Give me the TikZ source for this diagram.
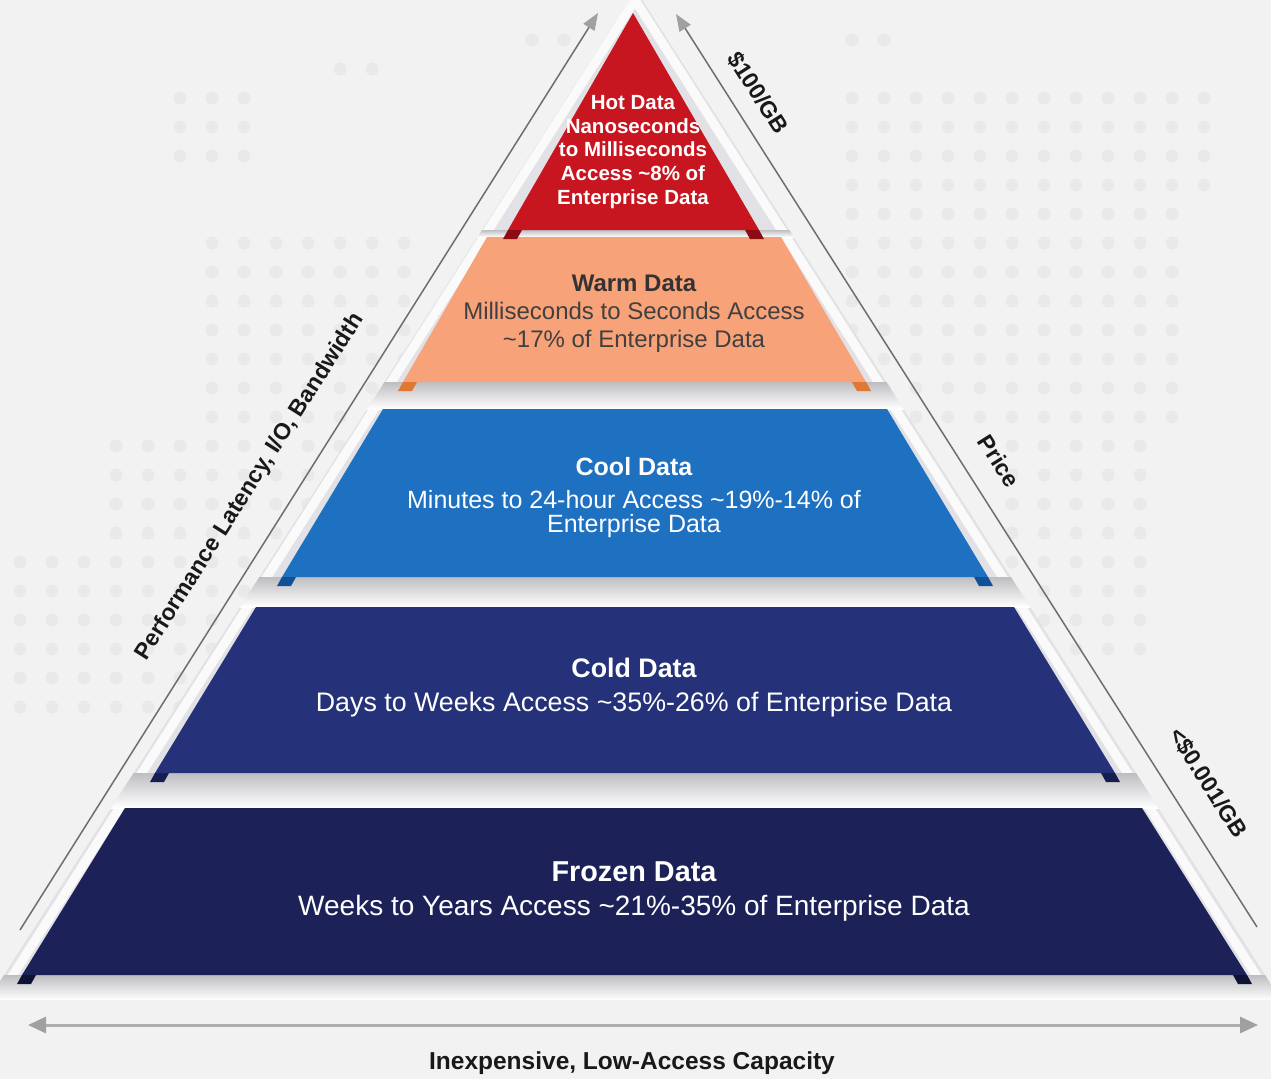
\documentclass[tikz,border=0pt]{standalone}
\usepackage{fontspec}
\setmainfont{Liberation Sans}
\usetikzlibrary{arrows.meta}

\definecolor{pagebg}{RGB}{242,242,242}
\definecolor{mapdot}{RGB}{233,233,233}
\definecolor{backing}{RGB}{226,226,230}
\definecolor{gapshadow}{RGB}{190,190,194}
\definecolor{hotred}{RGB}{200,22,32}
\definecolor{hotdark}{RGB}{140,12,20}
\definecolor{warmorange}{RGB}{247,162,120}
\definecolor{warmdark}{RGB}{222,120,50}
\definecolor{coolblue}{RGB}{30,112,193}
\definecolor{cooldark}{RGB}{18,80,150}
\definecolor{coldnavy}{RGB}{37,49,120}
\definecolor{colddark}{RGB}{22,30,80}
\definecolor{frozennavy}{RGB}{28,34,88}
\definecolor{frozendark}{RGB}{14,18,55}
\definecolor{axisline}{RGB}{110,110,110}
\definecolor{tipgray}{RGB}{160,160,160}

\begin{document}
\begin{tikzpicture}[
  x=1pt, y=-1pt,
  txt/.style={text=white, align=center, inner sep=0pt},
  sidelabel/.style={text=black!90, inner sep=0pt, font=\bfseries\fontsize{23}{25}\selectfont},
  axis/.style={line width=1.5pt, draw=axisline, -{Triangle[length=17pt,width=13pt,color=tipgray]}},
  capaxis/.style={line width=3pt, draw=tipgray!85, {Triangle[length=18pt,width=16pt,color=tipgray]}-{Triangle[length=18pt,width=16pt,color=tipgray]}}
]
  \useasboundingbox (0,0) rectangle (1271,1079);
  \fill[pagebg] (0,0) rectangle (1271,1079);

  % faint dotted world map behind the pyramid
  \begin{scope}
    \clip (164,83.5) rectangle (260,170.5) (324,54.5) rectangle (388,83.5)
          (516,25) rectangle (580,54.5) (836,25) rectangle (900,54.5)
          (196,228.5) rectangle (420,431.5) (100,431.5) rectangle (420,547.5)
          (4,547.5) rectangle (260,721.5) (836,83.5) rectangle (1220,199.5)
          (836,199.5) rectangle (1188,431.5) (996,431.5) rectangle (1156,663.5);
    \foreach \i in {0,...,38}
      \foreach \j in {0,...,24}
        \fill[mapdot] (20+32*\i, 40+29*\j) circle (6.5);
  \end{scope}

  % light backing with the shadows between the layers
  \begin{scope}
    \clip (636,-10) -- (1281,1000) -- (-12,1000) -- cycle;
    \fill[backing] (0,-10) rectangle (1271,1000);
    \draw[white, line width=9pt, opacity=.85] (0.2,995) -- (635,0) -- (1268.7,995);
    \foreach \ya/\yb in {230/237, 382/409, 577/607, 773/808, 975/1000}
      \shade[top color=gapshadow, bottom color=white] (0,\ya) rectangle (1271,\yb);
  \end{scope}

  % the five layers
  \fill[hotred] (633,13) -- (759,230) -- (508,230) -- cycle;
  \fill[warmorange] (487,237) -- (781,237) -- (866,382) -- (403,382) -- cycle;
  \fill[coolblue] (383,409) -- (887,409) -- (988,577) -- (282,577) -- cycle;
  \fill[coldnavy] (256,607) -- (1014,607) -- (1115,773) -- (155,773) -- cycle;
  \fill[frozennavy] (125,808) -- (1142,808) -- (1247,975) -- (22,975) -- cycle;

  % darker edges under the corners
  \foreach \c/\xl/\xr/\yb in {hotdark/508/759/230, warmdark/403/866/382,
      cooldark/282/988/577, colddark/155/1115/773, frozendark/22/1247/975} {
    \fill[\c] (\xl,\yb) -- ++(14,0) -- ++(-5,9) -- ++(-14,0) -- cycle;
    \fill[\c] (\xr,\yb) -- ++(-14,0) -- ++(5,9) -- ++(14,0) -- cycle;
  }

  % layer texts
  \node[txt, font=\bfseries\fontsize{20.5}{23.8}\selectfont] (hot) at (633,152)
    {Hot Data\\Nanoseconds\\to Milliseconds\\Access \textasciitilde8\% of\\Enterprise Data};
  \node[txt, text=black!80, font=\bfseries\fontsize{24}{24}\selectfont] (warmT) at (634,283) {Warm Data};
  \node[txt, text=black!75, font=\fontsize{24}{28}\selectfont] (warmB) at (634,327)
    {Milliseconds to Seconds Access\\\textasciitilde17\% of Enterprise Data};
  \node[txt, font=\bfseries\fontsize{25}{25}\selectfont] (coolT) at (634,467) {Cool Data};
  \node[txt, font=\fontsize{25}{24}\selectfont] (coolB) at (634,514)
    {Minutes to 24-hour Access \textasciitilde19\%-14\% of\\Enterprise Data};
  \node[txt, font=\bfseries\fontsize{26.8}{27}\selectfont] (coldT) at (634,668) {Cold Data};
  \node[txt, font=\fontsize{26.8}{27}\selectfont] (coldB) at (634,705)
    {Days to Weeks Access \textasciitilde35\%-26\% of Enterprise Data};
  \node[txt, font=\bfseries\fontsize{28.8}{29}\selectfont] (frozenT) at (634,872) {Frozen Data};
  \node[txt, font=\fontsize{28}{29}\selectfont] (frozenB) at (634,908)
    {Weeks to Years Access \textasciitilde21\%-35\% of Enterprise Data};

  % axes
  \coordinate (perfTail) at (20,930);
  \coordinate (perfHead) at (598,13);
  \coordinate (priceTail) at (1257,927);
  \coordinate (priceHead) at (676,14);
  \coordinate (capLeft) at (28,1025);
  \coordinate (capRight) at (1258,1025);
  \draw[axis] (perfTail) -- (perfHead);
  \draw[axis] (priceTail) -- (priceHead);
  \draw[capaxis] (capLeft) -- (capRight);

  \node[sidelabel, rotate=57.6] (perf) at (250,487) {Performance Latency, I/O, Bandwidth};
  \node[sidelabel, rotate=-57.6] (priceTop) at (758,93) {\$100/GB};
  \node[sidelabel, rotate=-57.6] (price) at (999,461) {Price};
  \node[sidelabel, rotate=-57.6] (priceLow) at (1208,783) {<\$0.001/GB};
  \node[sidelabel, font=\bfseries\fontsize{24.5}{25}\selectfont] (capacity) at (632,1063)
    {Inexpensive, Low-Access Capacity};
\end{tikzpicture}
\end{document}
